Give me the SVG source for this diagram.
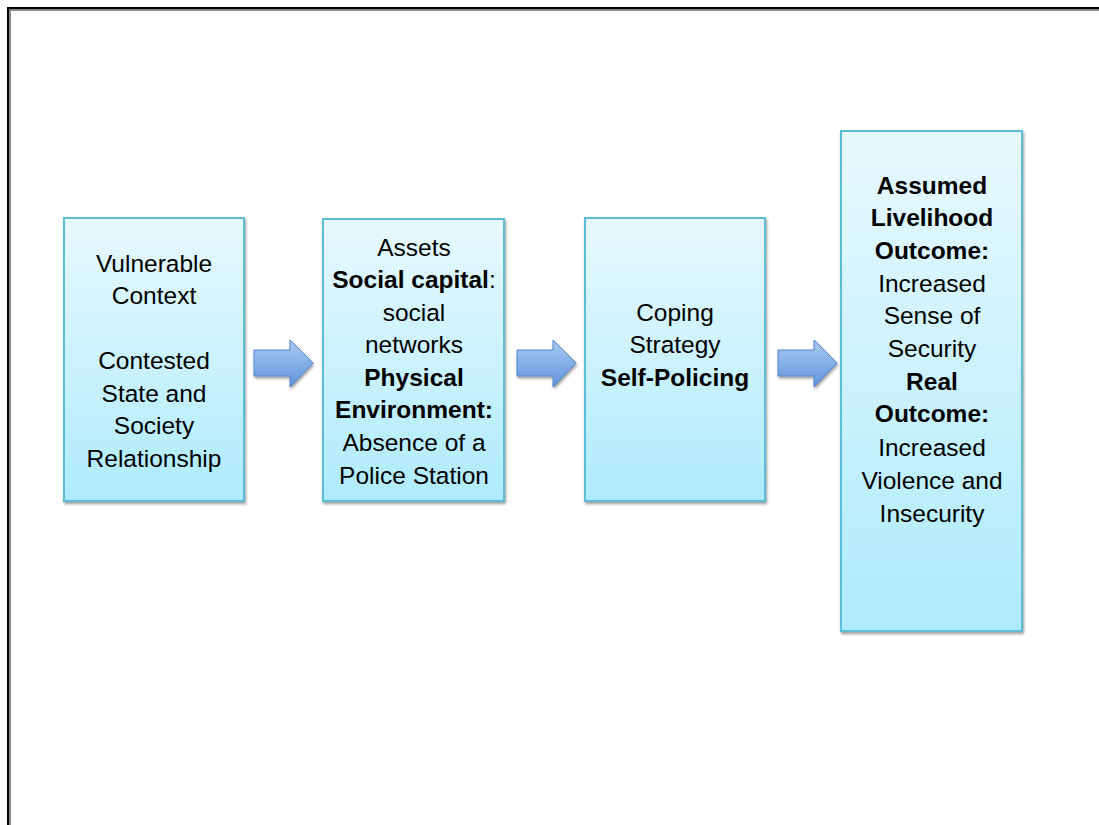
<svg xmlns="http://www.w3.org/2000/svg" width="1099" height="825" viewBox="0 0 1099 825">
<defs>
<linearGradient id="boxg" x1="0" y1="0" x2="0" y2="1">
<stop offset="0" stop-color="#e8f9fe"/>
<stop offset="1" stop-color="#aeebfc"/>
</linearGradient>
<linearGradient id="arrg" x1="0" y1="0" x2="0" y2="1">
<stop offset="0" stop-color="#a9ccf3"/>
<stop offset="1" stop-color="#5f93dc"/>
</linearGradient>
<filter id="sh" x="-10%" y="-10%" width="130%" height="130%">
<feGaussianBlur in="SourceAlpha" stdDeviation="1.5"/>
<feOffset dx="1" dy="2" result="b"/>
<feComponentTransfer><feFuncA type="linear" slope="0.4"/></feComponentTransfer>
<feMerge><feMergeNode/><feMergeNode in="SourceGraphic"/></feMerge>
</filter>
</defs>
<style>
.box{fill:url(#boxg);stroke:#5cbdd6;stroke-width:2;filter:url(#sh)}
.arr{fill:url(#arrg);stroke:#5386c8;stroke-width:1;filter:url(#sh)}
text{font-family:"Liberation Sans",Arial,sans-serif;font-size:24.5px;fill:#000;text-anchor:middle}
.b{font-weight:bold}
</style>
<rect width="1099" height="825" fill="#fff"/>
<rect x="8.5" y="8.5" width="1100" height="830" fill="none" stroke="#888" stroke-width="3" transform="translate(1,1)"/>
<rect x="8" y="8" width="1100" height="830" fill="none" stroke="#000" stroke-width="2"/>

<g id="connectors">
<path class="arr" d="M254,350 H290 V340 L313,363 L290,387 V376 H254 Z"/>
<path class="arr" d="M517,350 H553 V340 L576,363 L553,387 V376 H517 Z"/>
<path class="arr" d="M778,350 H814 V340 L837,363 L814,387 V376 H778 Z"/>
</g>

<g id="node1">
<rect class="box" x="64" y="218" width="180" height="283"/>
<text x="154" y="272">Vulnerable</text>
<text x="154" y="304">Context</text>
<text x="154" y="369">Contested</text>
<text x="154" y="402">State and</text>
<text x="154" y="434">Society</text>
<text x="154" y="467">Relationship</text>
</g>

<g id="node2">
<rect class="box" x="323" y="219" width="181" height="282"/>
<text x="414" y="256">Assets</text>
<text x="414" y="288"><tspan class="b">Social capital</tspan>:</text>
<text x="414" y="321">social</text>
<text x="414" y="353">networks</text>
<text x="414" y="386" class="b">Physical</text>
<text x="414" y="418" class="b">Environment:</text>
<text x="414" y="451">Absence of a</text>
<text x="414" y="484">Police Station</text>
</g>

<g id="node3">
<rect class="box" x="585" y="218" width="180" height="283"/>
<text x="675" y="321">Coping</text>
<text x="675" y="353">Strategy</text>
<text x="675" y="386" class="b">Self-Policing</text>
</g>

<g id="node4">
<rect class="box" x="841" y="131" width="181" height="500"/>
<text x="932" y="194" class="b">Assumed</text>
<text x="932" y="226" class="b">Livelihood</text>
<text x="932" y="259" class="b">Outcome:</text>
<text x="932" y="292">Increased</text>
<text x="932" y="324">Sense of</text>
<text x="932" y="357">Security</text>
<text x="932" y="390" class="b">Real</text>
<text x="932" y="422" class="b">Outcome:</text>
<text x="932" y="456">Increased</text>
<text x="932" y="489">Violence and</text>
<text x="932" y="522">Insecurity</text>
</g>
</svg>
